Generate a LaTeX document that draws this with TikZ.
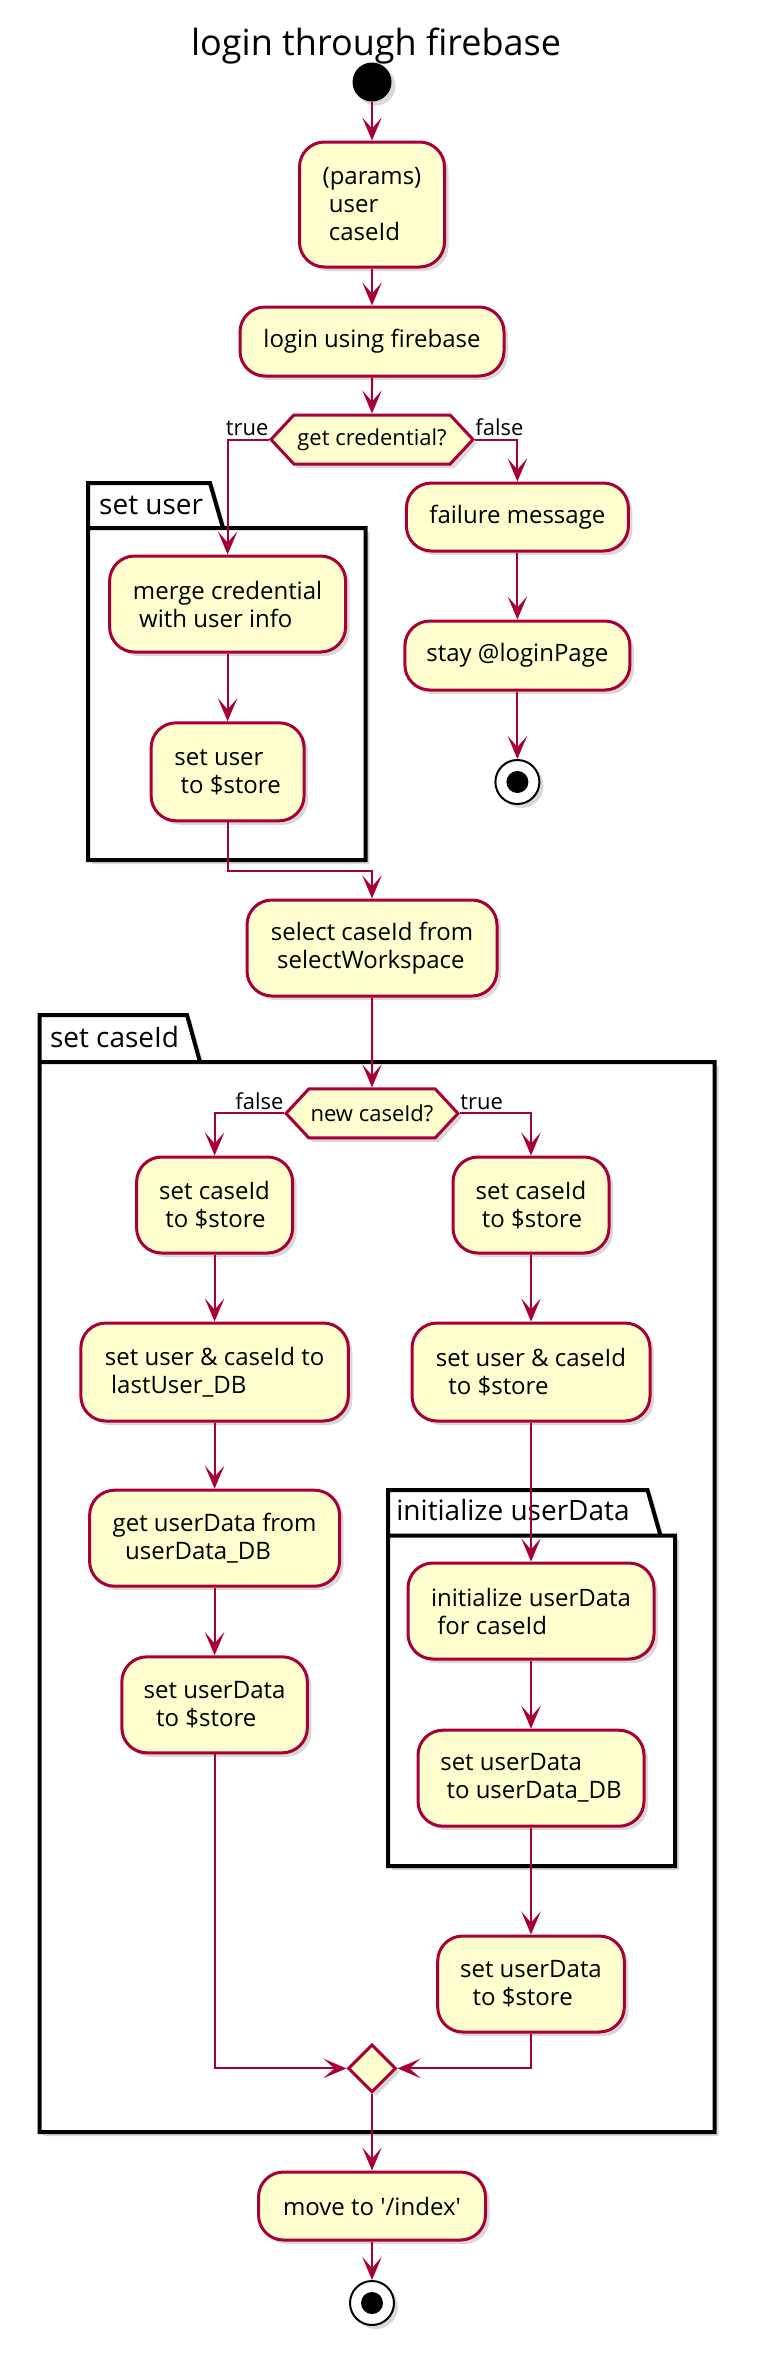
\documentclass[tikz,border=0pt]{standalone}
\usepackage{fontspec}
\setmainfont{Open Sans}
\usetikzlibrary{shapes.geometric,shapes.symbols,shadows,arrows.meta}
\definecolor{actborder}{HTML}{A80036}
\definecolor{actfill}{HTML}{FEFECE}
\newcommand{\leadsp}{\hspace*{0.26em}}
\tikzset{
  shade/.style={drop shadow={shadow xshift=2pt, shadow yshift=-2pt, opacity=0.25, fill=black!60}},
  act/.style={rectangle, rounded corners=12.5pt, draw=actborder, fill=actfill, line width=1.5pt,
    align=left, inner sep=0pt, font=\fontsize{12}{14}\selectfont, shade},
  decide/.style={signal, signal to=west and east, signal pointer angle=94, draw=actborder, fill=actfill,
    line width=1.5pt, inner sep=0pt, minimum height=24.5pt, font=\fontsize{11}{13}\selectfont, shade},
  joint/.style={diamond, draw=actborder, fill=actfill, line width=1.5pt, inner sep=0pt, minimum size=24pt, shade},
  startdot/.style={circle, fill=black, inner sep=0pt, minimum size=19.5pt, shade},
  stopdot/.style={circle, draw=black, fill=white, line width=1pt, inner sep=0pt, minimum size=22pt, shade,
    path picture={\fill[black] (path picture bounding box.center) circle (5.5pt);}},
  flow/.style={draw=actborder, line width=1pt, -{Stealth[length=11.5pt, width=9.7pt, inset=5.5pt]}},
  lbl/.style={inner sep=0pt, font=\fontsize{11}{13}\selectfont},
  pkg/.style={draw=black, line width=2pt, fill=white, shade},
  pkglbl/.style={inner sep=0pt, anchor=base west, font=\fontsize{14}{16}\selectfont}
}
\begin{document}
\begin{tikzpicture}[x=1pt, y=-1pt]
    \useasboundingbox (0,0) rectangle (378,1178);

    % packages
    \draw[pkg] (44,241.5) -- (105,241.5) -- (111.5,264) -- (182.75,264) -- (182.75,430) -- (44,430) -- cycle (44,264) -- (111.5,264);
    \draw[pkg] (19.75,507.5) -- (93.5,507.5) -- (100,531) -- (357.3,531) -- (357.3,1066) -- (19.75,1066) -- cycle (19.75,531) -- (100,531);
    \draw[pkg] (194,745) -- (323.75,745) -- (330.25,767.8) -- (337.5,767.8) -- (337.5,933) -- (194,933) -- cycle (194,767.8) -- (330.25,767.8);
    \node[pkglbl] (pkguser) at (49.4,257.4) {set user};
    \node[pkglbl] (pkgcase) at (24.8,523.5) {set caseId};
    \node[pkglbl] (pkginit) at (198,760.4) {initialize userData};

    \node[font=\fontsize{18}{21}\selectfont, anchor=base] (title) at (188,27.8) {login through firebase};

    \node[startdot] (start) at (186,41) {};
    \node[act, minimum width=72.5pt, minimum height=62.5pt] (params) at (186,102.25) {(params)\\\leadsp user\\\leadsp caseId};
    \node[act, minimum width=132pt, minimum height=34.5pt] (login) at (186,170.75) {login using firebase};
    \node[decide, minimum width=101pt] (credq) at (186,219.75) {get credential?};
    \node[lbl, anchor=base east] (credtrue) at ([yshift=2.2pt]credq.west) {true};
    \node[lbl, anchor=base west] (credfalse) at ([yshift=2.2pt]credq.east) {false};

    \node[act, minimum width=111pt, minimum height=34pt] (failmsg) at (258.7,258.5) {failure message};
    \node[act, minimum width=112.5pt, minimum height=34.5pt] (stay) at (258.7,327.75) {stay @loginPage};
    \node[stopdot] (failend) at (258.7,391) {};

    \node[act, minimum width=118pt, minimum height=48pt] (merge) at (113.8,302) {merge credential\\\leadsp with user info};
    \node[act, minimum width=76.5pt, minimum height=49pt] (setuser) at (113.8,385.9) {set user\\\leadsp to \$store};

    \node[act, minimum width=125pt, minimum height=48pt] (select) at (186,474) {select caseId from\\\leadsp selectWorkspace};
    \node[decide, minimum width=86pt] (caseq) at (186,556.7) {new caseId?};
    \node[lbl, anchor=base east] (casefalse) at ([yshift=2.2pt]caseq.west) {false};
    \node[lbl, anchor=base west] (casetrue) at ([yshift=2.2pt]caseq.east) {true};

    % false side
    \node[act, minimum width=78pt, minimum height=48pt] (lcase) at (107.3,602.5) {set caseId\\\leadsp to \$store};
    \node[act, minimum width=133.75pt, minimum height=49pt] (lastuser) at (107.3,686) {set user \& caseId to\\\leadsp lastUser\_DB};
    \node[act, minimum width=125pt, minimum height=48pt] (getdata) at (107.3,769.1) {get userData from\\\leadsp\leadsp userData\_DB};
    \node[act, minimum width=92.75pt, minimum height=48pt] (ldata) at (107.3,852.4) {set userData\\\leadsp\leadsp to \$store};

    % true side
    \node[act, minimum width=78pt, minimum height=48pt] (rcase) at (265.5,602.5) {set caseId\\\leadsp to \$store};
    \node[act, minimum width=119pt, minimum height=49pt] (storeuser) at (265.5,686) {set user \& caseId\\\leadsp\leadsp to \$store};
    \node[act, minimum width=123pt, minimum height=48pt] (initdata) at (265.5,805.5) {initialize userData\\\leadsp for caseId};
    \node[act, minimum width=113pt, minimum height=48pt] (dbdata) at (265.5,889.1) {set userData\\\leadsp to userData\_DB};
    \node[act, minimum width=93.3pt, minimum height=48pt] (rdata) at (265.5,992) {set userData\\\leadsp\leadsp to \$store};

    \node[joint] (join) at (186,1034.2) {};
    \node[act, minimum width=113.5pt, minimum height=34pt] (moveidx) at (186,1103) {move to \textquotesingle/index\textquotesingle};
    \node[stopdot] (stop) at (186,1151.5) {};

    \draw[flow] (start) -- (params);
    \draw[flow] (params) -- (login);
    \draw[flow] (login) -- (credq);
    \draw[flow] (credq.west) -| (merge.north);
    \draw[flow] (credq.east) -| (failmsg.north);
    \draw[flow] (failmsg) -- (stay);
    \draw[flow] (stay) -- (failend);
    \draw[flow] (merge) -- (setuser);
    \draw[flow] (setuser.south) -- ++(0,24.5) -| (select.north);
    \draw[flow] (select) -- (caseq);
    \draw[flow] (caseq.west) -| (lcase.north);
    \draw[flow] (caseq.east) -| (rcase.north);
    \draw[flow] (lcase) -- (lastuser);
    \draw[flow] (lastuser) -- (getdata);
    \draw[flow] (getdata) -- (ldata);
    \draw[flow] (rcase) -- (storeuser);
    \draw[flow] (storeuser) -- (initdata);
    \draw[flow] (initdata) -- (dbdata);
    \draw[flow] (dbdata) -- (rdata);
    \draw[flow] (ldata.south) |- (join.west);
    \draw[flow] (rdata.south) |- (join.east);
    \draw[flow] (join) -- (moveidx);
    \draw[flow] (moveidx) -- (stop);

  \end{tikzpicture}
\end{document}
